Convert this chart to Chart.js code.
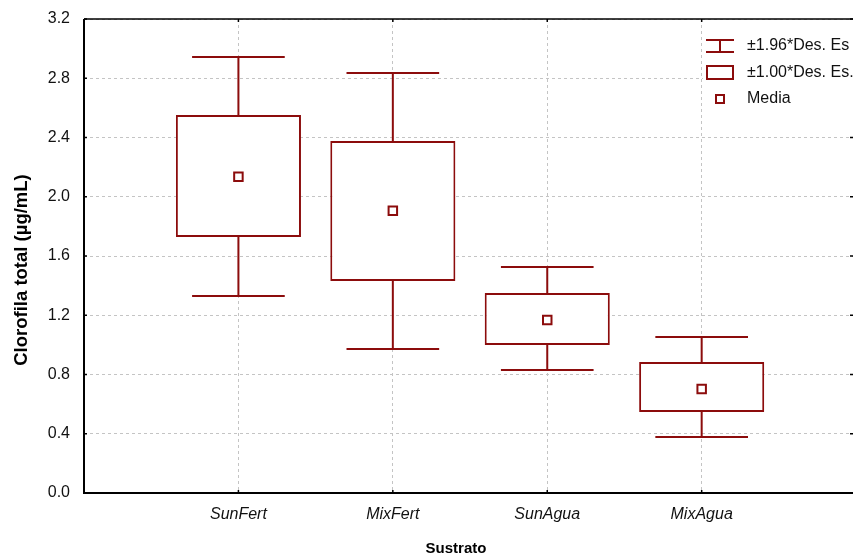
<!DOCTYPE html>
<html>
<head>
<meta charset="utf-8">
<script src="https://cdn.jsdelivr.net/npm/chart.js@4"></script>
<style>
  html, body { margin: 0; padding: 0; background: #fff; }
  #wrap { width: 853px; height: 558px; position: relative; }
</style>
</head>
<body>
<div id="wrap"><canvas id="c"></canvas></div>
<script>
// Chlorophyll by substrate: mean, ±1.00 SD box and ±1.96 SD whiskers
const categories  = ['SunFert', 'MixFert', 'SunAgua', 'MixAgua'];
const means       = [2.135, 1.905, 1.168, 0.702];
const boxLow      = [1.729, 1.431, 0.999, 0.547];
const boxHigh     = [2.552, 2.377, 1.350, 0.885];
const whiskerLow  = [1.330, 0.972, 0.831, 0.378];
const whiskerHigh = [2.944, 2.836, 1.526, 1.053];
const yTickValues = [0.0, 0.4, 0.8, 1.2, 1.6, 2.0, 2.4, 2.8, 3.2];
const legendLabels = ['±1.96*Des. Es', '±1.00*Des. Es.', 'Media'];
const yTitle = 'Clorofila total (µg/mL)';
const xTitle = 'Sustrato';

const RED = '#8c0c0c';
const FONT = "'Liberation Sans', Arial, sans-serif";
const CAP_HALF = 0.30;   // whisker cap half-width, in category units

const positions = categories.map((_, i) => i + 1);

const whiskerPlugin = {
  id: 'whiskers',
  beforeDatasetsDraw(chart) {
    const { ctx, scales: { x, y } } = chart;
    ctx.save();
    ctx.strokeStyle = RED;
    ctx.lineWidth = 2;
    positions.forEach((p, i) => {
      const cx = x.getPixelForValue(p);
      const yl = y.getPixelForValue(whiskerLow[i]);
      const yh = y.getPixelForValue(whiskerHigh[i]);
      const xl = x.getPixelForValue(p - CAP_HALF);
      const xr = x.getPixelForValue(p + CAP_HALF);
      ctx.beginPath();
      ctx.moveTo(cx, yl); ctx.lineTo(cx, yh);
      ctx.moveTo(xl, yl); ctx.lineTo(xr, yl);
      ctx.moveTo(xl, yh); ctx.lineTo(xr, yh);
      ctx.stroke();
    });
    ctx.restore();
  }
};

const framePlugin = {
  id: 'frame',
  afterDraw(chart) {
    const { ctx, chartArea: a, scales: { x, y } } = chart;
    ctx.save();
    ctx.setLineDash([]);
    ctx.strokeStyle = '#000';
    // axis lines: left, bottom, top
    ctx.lineWidth = 2;
    ctx.beginPath();
    ctx.moveTo(a.left, a.top); ctx.lineTo(a.left, a.bottom);
    ctx.moveTo(a.left - 1, a.bottom); ctx.lineTo(a.right, a.bottom);
    ctx.stroke();
    ctx.lineWidth = 1.5;
    ctx.beginPath();
    ctx.moveTo(a.left, a.top); ctx.lineTo(a.right, a.top);
    ctx.stroke();
    // small inner tick marks
    ctx.beginPath();
    positions.forEach(p => {
      const px = x.getPixelForValue(p);
      ctx.moveTo(px, a.top); ctx.lineTo(px, a.top + 3);
      ctx.moveTo(px, a.bottom); ctx.lineTo(px, a.bottom - 3);
    });
    yTickValues.forEach(v => {
      const py = y.getPixelForValue(v);
      ctx.moveTo(a.left, py); ctx.lineTo(a.left + 3, py);
      ctx.moveTo(a.right, py); ctx.lineTo(a.right - 3, py);
    });
    ctx.stroke();

    // legend
    const lx = 706, lw = 28, tx = 747;
    const rows = [46, 73, 99];
    ctx.fillStyle = '#fff';
    ctx.fillRect(703, 30, a.right - 703, 82);
    ctx.strokeStyle = RED;
    ctx.lineWidth = 2;
    ctx.beginPath();
    ctx.moveTo(lx, 40); ctx.lineTo(lx + lw, 40);
    ctx.moveTo(lx, 52); ctx.lineTo(lx + lw, 52);
    ctx.moveTo(lx + lw / 2, 40); ctx.lineTo(lx + lw / 2, 52);
    ctx.stroke();
    ctx.strokeRect(lx + 1, 66, lw - 2, 13);
    ctx.strokeRect(716, 95, 8, 8);
    ctx.fillStyle = '#111';
    ctx.font = '16px ' + FONT;
    ctx.textBaseline = 'middle';
    ctx.textAlign = 'left';
    legendLabels.forEach((t, i) => ctx.fillText(t, tx, rows[i]));

    // axis titles
    ctx.fillStyle = '#000';
    ctx.font = 'bold 15px ' + FONT;
    ctx.textAlign = 'center';
    ctx.fillText(xTitle, 456, 549);
    ctx.save();
    ctx.translate(22, 270);
    ctx.rotate(-Math.PI / 2);
    ctx.font = 'bold 18.5px ' + FONT;
    ctx.fillText(yTitle, 0, 0);
    ctx.restore();
    ctx.restore();
  }
};

new Chart(document.getElementById('c'), {
  data: {
    datasets: [
      {
        type: 'scatter',
        label: 'Media',
        data: positions.map((p, i) => ({ x: p, y: means[i] })),
        pointStyle: 'rect',
        radius: 6,
        hoverRadius: 6,
        backgroundColor: '#fff',
        borderColor: RED,
        borderWidth: 2,
        order: 0
      },
      {
        type: 'bar',
        label: '±1.00*Des. Es.',
        data: positions.map((p, i) => ({ x: p, y: [boxLow[i], boxHigh[i]] })),
        backgroundColor: '#fff',
        borderColor: RED,
        borderWidth: 2,
        borderSkipped: false,
        categoryPercentage: 1.0,
        barPercentage: 0.81,
        order: 1
      }
    ]
  },
  options: {
    responsive: true,
    maintainAspectRatio: false,
    animation: false,
    events: [],
    layout: { autoPadding: false, padding: { left: 0, right: 0, top: 19, bottom: 0 } },
    plugins: { legend: { display: false }, tooltip: { enabled: false } },
    scales: {
      x: {
        type: 'linear',
        min: 0,
        max: 4.98,
        offset: false,
        afterBuildTicks(scale) { scale.ticks = positions.map(v => ({ value: v })); },
        afterFit(scale) { scale.height = 65; scale.paddingLeft = 0; scale.paddingRight = 0; },
        ticks: {
          autoSkip: false,
          maxRotation: 0,
          padding: 12,
          color: '#111',
          font: { family: FONT, size: 16, style: 'italic' },
          callback: v => categories[v - 1]
        },
        grid: { color: '#c4c4c4', lineWidth: 1, drawTicks: false, offset: false },
        border: { display: false, dash: [3, 3] }
      },
      y: {
        type: 'linear',
        min: 0,
        max: 3.2,
        afterBuildTicks(scale) { scale.ticks = yTickValues.map(v => ({ value: v })); },
        afterFit(scale) { scale.width = 84; scale.paddingTop = 0; scale.paddingBottom = 0; },
        ticks: {
          padding: 14,
          color: '#111',
          font: { family: FONT, size: 16 },
          callback: v => v.toFixed(1)
        },
        grid: { color: '#c4c4c4', lineWidth: 1, drawTicks: false },
        border: { display: false, dash: [3, 3] }
      }
    }
  },
  plugins: [whiskerPlugin, framePlugin]
});
</script>
</body>
</html>
